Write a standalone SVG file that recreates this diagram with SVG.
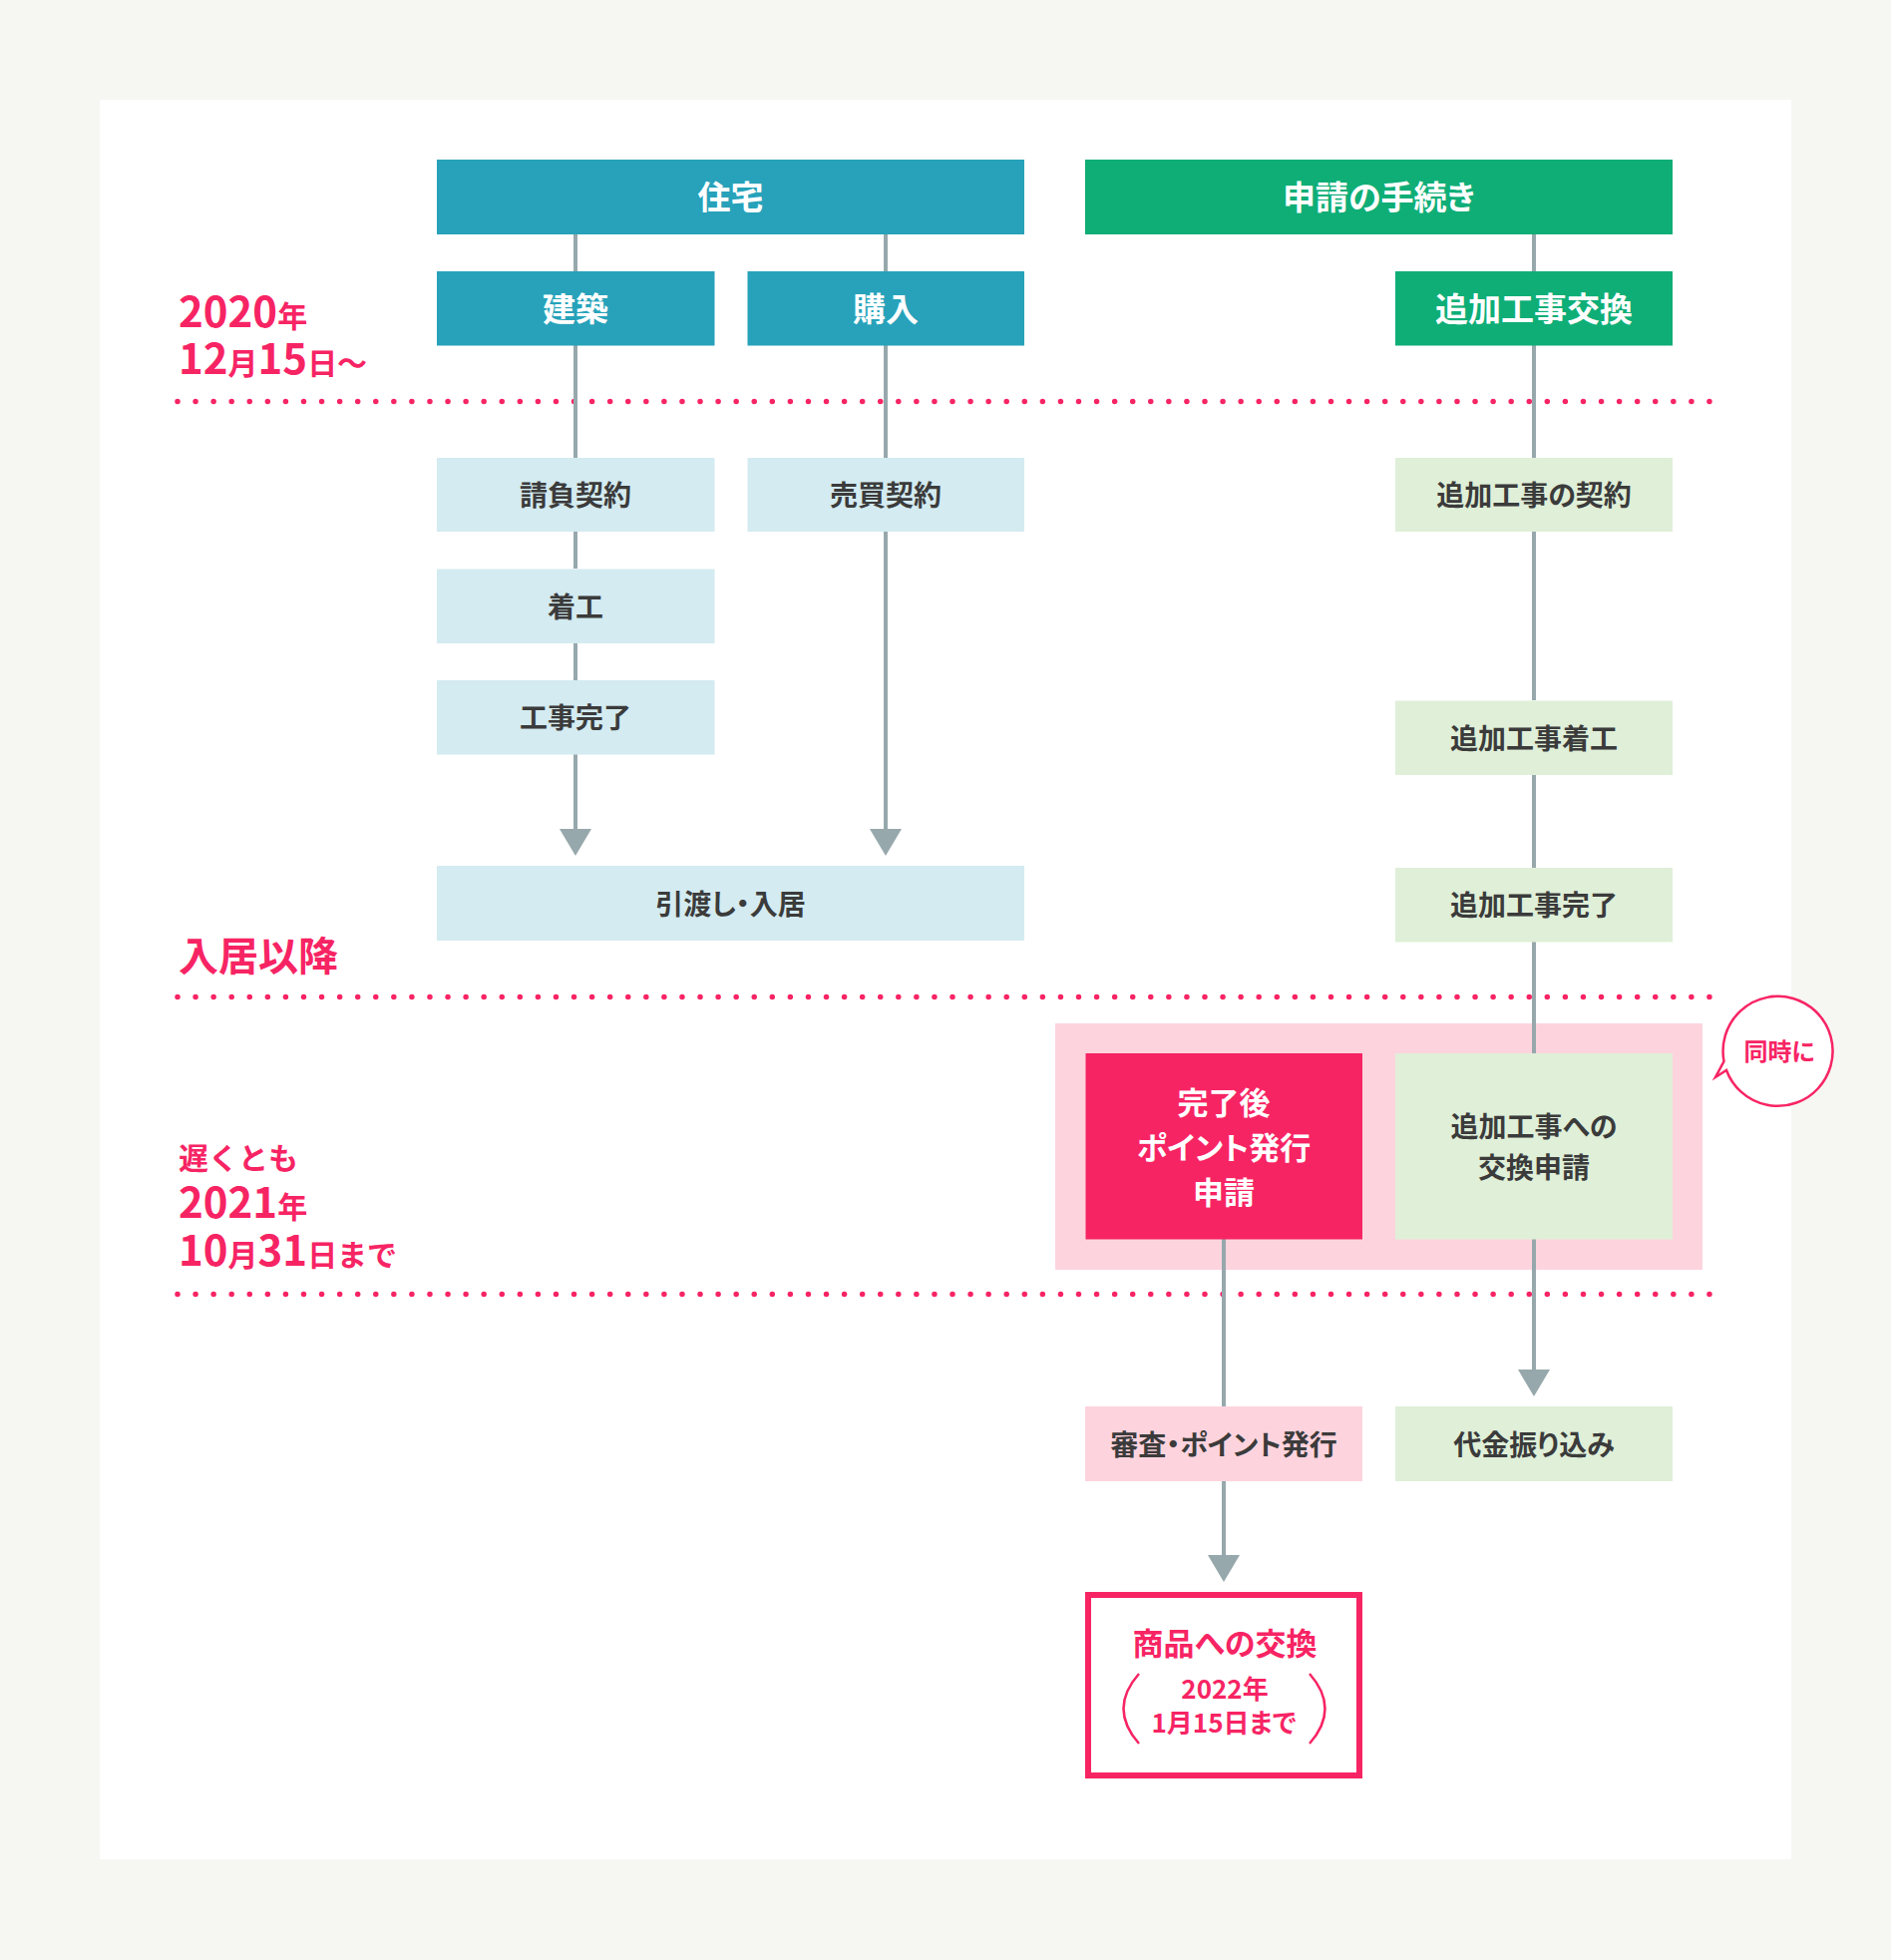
<svg xmlns="http://www.w3.org/2000/svg" width="1896" height="1965" viewBox="0 0 1896 1965">
<defs>
<style>
text{font-family:"Noto Sans CJK JP","Noto Sans",sans-serif;font-weight:700;font-feature-settings:"palt";}
.hd{fill:#ffffff;font-size:33px;text-anchor:middle;}
.lb{fill:#3b3b3b;font-size:28px;text-anchor:middle;}
.pk{fill:#f72464;}
.tl{font-feature-settings:normal;}
.dots{stroke:#f72464;stroke-width:5.5;stroke-linecap:round;stroke-dasharray:0 18.07;fill:none;}
.cn{stroke:#97a8ac;stroke-width:4;fill:none;}
.teal{fill:#27a2ba;}
.green{fill:#0fae77;}
.lblue{fill:#d3ebf1;}
.lgreen{fill:#dfefd8;}
.lpink{fill:#fdd4de;}
</style>
<marker id="ah" markerUnits="userSpaceOnUse" markerWidth="28" markerHeight="32" viewBox="0 0 28 32" refX="0" refY="16" orient="auto">
<path d="M0,0 L27,16 L0,32 z" fill="#97a8ac"/>
</marker>
</defs>
<rect x="0" y="0" width="1896" height="1965" fill="#f6f7f2"/>
<rect x="100" y="100" width="1696" height="1764" fill="#ffffff"/>

<g id="timeline">
<line class="dots" x1="178" y1="402.5" x2="1714" y2="402.5"/>
<line class="dots" x1="178" y1="999.5" x2="1714" y2="999.5"/>
<line class="dots" x1="178" y1="1297.5" x2="1714" y2="1297.5"/>
<text class="pk tl" x="179" y="328"><tspan font-size="42">2020</tspan><tspan font-size="30">年</tspan></text>
<text class="pk tl" x="179" y="375"><tspan font-size="42">12</tspan><tspan font-size="30">月</tspan><tspan font-size="42">15</tspan><tspan font-size="30">日〜</tspan></text>
<text class="pk tl" x="179" y="973" font-size="40">入居以降</text>
<text class="pk tl" x="179" y="1172" font-size="30">遅くとも</text>
<text class="pk tl" x="179" y="1221"><tspan font-size="42">2021</tspan><tspan font-size="30">年</tspan></text>
<text class="pk tl" x="179" y="1269"><tspan font-size="42">10</tspan><tspan font-size="30">月</tspan><tspan font-size="42">31</tspan><tspan font-size="30">日まで</tspan></text>
</g>

<g id="simultaneous-group">
<rect class="lpink" x="1058" y="1026" width="649" height="247"/>
</g>

<g id="connectors">
<line class="cn" x1="577" y1="235" x2="577" y2="272"/>
<line class="cn" x1="888" y1="235" x2="888" y2="272"/>
<line class="cn" x1="577" y1="346" x2="577" y2="459"/>
<line class="cn" x1="577" y1="533" x2="577" y2="570"/>
<line class="cn" x1="577" y1="645" x2="577" y2="682"/>
<line class="cn" x1="577" y1="756" x2="577" y2="831" marker-end="url(#ah)"/>
<line class="cn" x1="888" y1="346" x2="888" y2="459"/>
<line class="cn" x1="888" y1="533" x2="888" y2="831" marker-end="url(#ah)"/>
<line class="cn" x1="1538" y1="235" x2="1538" y2="272"/>
<line class="cn" x1="1538" y1="346" x2="1538" y2="459"/>
<line class="cn" x1="1538" y1="533" x2="1538" y2="702"/>
<line class="cn" x1="1538" y1="777" x2="1538" y2="870"/>
<line class="cn" x1="1538" y1="944" x2="1538" y2="1056"/>
<line class="cn" x1="1538" y1="1242" x2="1538" y2="1373" marker-end="url(#ah)"/>
<line class="cn" x1="1227" y1="1242" x2="1227" y2="1410"/>
<line class="cn" x1="1227" y1="1485" x2="1227" y2="1559" marker-end="url(#ah)"/>
</g>

<g id="n-jutaku">
<rect class="teal" x="438" y="160" width="589" height="75"/>
<text class="hd" x="732.5" y="210">住宅</text>
</g>
<g id="n-shinsei">
<rect class="green" x="1088" y="160" width="589" height="75"/>
<text class="hd" x="1382.5" y="210">申請の手続き</text>
</g>
<g id="n-kenchiku">
<rect class="teal" x="438" y="272" width="278.5" height="74.5"/>
<text class="hd" x="577" y="322">建築</text>
</g>
<g id="n-konyu">
<rect class="teal" x="749.5" y="272" width="277.5" height="74.5"/>
<text class="hd" x="888" y="322">購入</text>
</g>
<g id="n-tsuika-koukan">
<rect class="green" x="1399" y="272" width="278" height="74.5"/>
<text class="hd" x="1538" y="322">追加工事交換</text>
</g>
<g id="n-ukeoi">
<rect class="lblue" x="438" y="459" width="278.5" height="74"/>
<text class="lb" x="577" y="507">請負契約</text>
</g>
<g id="n-baibai">
<rect class="lblue" x="749.5" y="459" width="277.5" height="74"/>
<text class="lb" x="888" y="507">売買契約</text>
</g>
<g id="n-tsuika-keiyaku">
<rect class="lgreen" x="1399" y="459" width="278" height="74"/>
<text class="lb" x="1538" y="507">追加工事の契約</text>
</g>
<g id="n-chakko">
<rect class="lblue" x="438" y="570.5" width="278.5" height="74.5"/>
<text class="lb" x="577" y="618.5">着工</text>
</g>
<g id="n-kanryo">
<rect class="lblue" x="438" y="682" width="278.5" height="74.5"/>
<text class="lb" x="577" y="730">工事完了</text>
</g>
<g id="n-tsuika-chakko">
<rect class="lgreen" x="1399" y="702.5" width="278" height="74.5"/>
<text class="lb" x="1538" y="750.5">追加工事着工</text>
</g>
<g id="n-hikiwatashi">
<rect class="lblue" x="438" y="868" width="589" height="75"/>
<text class="lb" x="732.5" y="916.5">引渡し・入居</text>
</g>
<g id="n-tsuika-kanryo">
<rect class="lgreen" x="1399" y="870" width="278" height="74.5"/>
<text class="lb" x="1538" y="918">追加工事完了</text>
</g>
<g id="n-point-shinsei">
<rect fill="#f72464" x="1088.5" y="1056" width="277.5" height="186.5"/>
<text fill="#ffffff" font-size="31" text-anchor="middle" x="1227" y="1117">完了後</text>
<text fill="#ffffff" font-size="31" text-anchor="middle" x="1227" y="1162">ポイント発行</text>
<text fill="#ffffff" font-size="31" text-anchor="middle" x="1227" y="1207">申請</text>
</g>
<g id="n-koukan-shinsei">
<rect class="lgreen" x="1399" y="1056" width="278" height="186.5"/>
<text class="lb" x="1538" y="1140">追加工事への</text>
<text class="lb" x="1538" y="1181">交換申請</text>
</g>
<g id="n-doji">
<path d="M1731,1073 A55,55 0 1 0 1728.5,1064 L1720,1080 Z" fill="#ffffff" stroke="#f72464" stroke-width="2.5" stroke-linejoin="miter"/>
<text class="pk" font-size="24" text-anchor="middle" x="1784" y="1063">同時に</text>
</g>
<g id="n-shinsa">
<rect class="lpink" x="1088" y="1410" width="278" height="75"/>
<text class="lb" x="1227" y="1458.5">審査・ポイント発行</text>
</g>
<g id="n-daikin">
<rect class="lgreen" x="1399" y="1410" width="278" height="75"/>
<text class="lb" x="1538" y="1458.5">代金振り込み</text>
</g>
<g id="n-shohin">
<rect x="1091" y="1599" width="272" height="181" fill="#ffffff" stroke="#f72464" stroke-width="6"/>
<text class="pk" font-size="31" text-anchor="middle" x="1228" y="1659">商品への交換</text>
<text class="pk" font-size="26" text-anchor="middle" x="1228" y="1703">2022年</text>
<text class="pk" font-size="26" text-anchor="middle" x="1227" y="1737">1月15日まで</text>
<path d="M1142,1678 Q1111,1713 1142,1748" fill="none" stroke="#f72464" stroke-width="2.5"/>
<path d="M1313,1678 Q1344,1713 1313,1748" fill="none" stroke="#f72464" stroke-width="2.5"/>
</g>
</svg>
